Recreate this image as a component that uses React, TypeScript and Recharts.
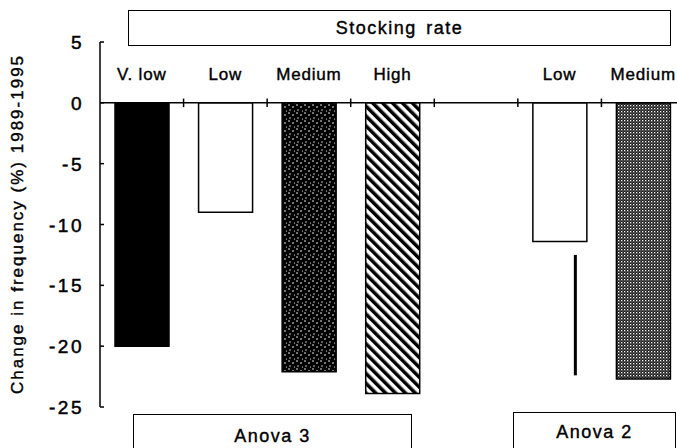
import React from "react";
import {
  BarChart,
  Bar,
  Cell,
  XAxis,
  YAxis,
  ReferenceLine,
} from "recharts";

// stocking-rate classes, the fifth slot is the gap between the two anovas
const categories = ["V. low", "Low", "Medium", "High", "", "Low", "Medium"];
const change = [-20, -9, -22.1, -23.9, null, -11.4, -22.7];
const fills = ["#000", "#fff", "url(#stipDark)", "url(#hatch)", "#fff", "#fff", "url(#stipLight)"];
// least significant difference bar, drawn beside the second "Low"
const lsd: (number[] | null)[] = [null, null, null, null, null, [-22.4, -12.5], null];
const yTicks = [5, 0, -5, -10, -15, -20, -25];

const data = categories.map((name, i) => ({
  name,
  pos: i + 0.5,
  change: change[i],
  lsd: lsd[i],
}));

const font = "'Liberation Sans', Arial, sans-serif";

const CatTick = (props: any) => {
  const { x, y, index } = props;
  return (
    <text x={x} y={y + 38} textAnchor="middle" fontFamily={font} fontSize={17} letterSpacing={0.8} fill="#000" stroke="#000" strokeWidth={0.4}>
      {categories[index]}
    </text>
  );
};

const ValTick = (props: any) => {
  const { x, y, payload } = props;
  return (
    <g>
      <line x1={x + 16} x2={x + 20} y1={y} y2={y} stroke="#000" strokeWidth={1.5} />
      <text x={x} y={y + 7} textAnchor="end" fontFamily={font} fontSize={19} letterSpacing={2.5} fill="#000" stroke="#000" strokeWidth={0.5}>
        {payload.value}
      </text>
    </g>
  );
};

const LsdShape = (props: any) => {
  const { x, y, width, height } = props;
  if (x == null || !height) return null;
  const top = height < 0 ? y + height : y;
  return <rect x={x + width / 2 + 14} y={top} width={3} height={Math.abs(height)} fill="#000" />;
};

const YLabel = () => (
  <text
    x={19}
    y={224}
    transform="rotate(-90 19 224)"
    textAnchor="middle"
    dominantBaseline="middle"
    fontFamily={font}
    fontSize={17}
    letterSpacing={2}
    fill="#000"
    stroke="#000"
    strokeWidth={0.4}
  >
    Change in frequency (%) 1989-1995
  </text>
);

const boxStyle: React.CSSProperties = {
  position: "absolute",
  border: "1.5px solid #000",
  boxSizing: "border-box",
  display: "flex",
  alignItems: "center",
  justifyContent: "center",
  fontFamily: font,
  fontSize: 18,
  letterSpacing: 1.5,
  WebkitTextStroke: "0.4px #000",
  background: "#fff",
};

export default function App() {
  return (
    <div style={{ position: "absolute", left: 0, top: 0, width: 677, height: 448, overflow: "hidden", background: "#fff" }}>
      <BarChart
        width={700}
        height={448}
        data={data}
        margin={{ top: 41, right: 15, left: 0, bottom: 41 }}
        barSize={54}
      >
        <defs>
          <pattern id="hatch" width="7" height="7" patternUnits="userSpaceOnUse" patternTransform="rotate(-45)">
            <rect width="7" height="7" fill="#fff" />
            <rect width="3.5" height="7" fill="#000" />
          </pattern>
          <pattern id="stipDark" width="8" height="8" patternUnits="userSpaceOnUse">
            <rect width="8" height="8" fill="#000" />
            <circle cx="1" cy="1" r="0.8" fill="#fff" />
            <circle cx="5" cy="3" r="0.8" fill="#fff" />
            <circle cx="2" cy="6" r="0.7" fill="#fff" />
            <circle cx="6.5" cy="7" r="0.6" fill="#fff" />
          </pattern>
          <pattern id="stipLight" width="3" height="3" patternUnits="userSpaceOnUse">
            <rect width="3" height="3" fill="#1a1a1a" />
            <rect x="0" y="0" width="1.3" height="1.3" fill="#fff" />
            <rect x="1.5" y="1.5" width="1" height="1" fill="#bbb" />
          </pattern>
        </defs>
        <XAxis
          xAxisId="cat"
          dataKey="name"
          orientation="top"
          height={1}
          axisLine={false}
          tickLine={false}
          tickSize={0}
          tickMargin={0}
          interval={0}
          tick={<CatTick />}
        />
        <XAxis xAxisId="lsd" dataKey="name" hide />
        <XAxis xAxisId="grid" type="number" dataKey="pos" domain={[0, categories.length]} allowDataOverflow hide />
        <YAxis
          width={100}
          domain={[-25, 5]}
          ticks={yTicks}
          interval={0}
          allowDataOverflow
          axisLine={{ stroke: "#000", strokeWidth: 1.5 }}
          tickLine={false}
          tickSize={0}
          tickMargin={16}
          tick={<ValTick />}
          label={<YLabel />}
        />
        <ReferenceLine xAxisId="cat" y={0} stroke="#000" strokeWidth={1.5} />
        {categories.slice(1).map((_, i) => (
          <ReferenceLine
            key={i}
            xAxisId="grid"
            segment={[
              { x: i + 1, y: -0.35 },
              { x: i + 1, y: 0.35 },
            ]}
            stroke="#000"
            strokeWidth={1.5}
          />
        ))}
        <Bar xAxisId="cat" dataKey="change" stroke="#000" strokeWidth={1.5} isAnimationActive={false}>
          {data.map((d, i) => (
            <Cell key={i} fill={fills[i]} />
          ))}
        </Bar>
        <Bar xAxisId="lsd" dataKey="lsd" shape={<LsdShape />} isAnimationActive={false} />
      </BarChart>
      <div style={{ ...boxStyle, left: 128, top: 10, width: 543, height: 36, wordSpacing: 3 }}>Stocking rate</div>
      <div style={{ ...boxStyle, left: 133, top: 414, width: 279, height: 50, alignItems: "flex-start", paddingTop: 11 }}>
        Anova 3
      </div>
      <div style={{ ...boxStyle, left: 513, top: 412, width: 163, height: 50, alignItems: "flex-start", paddingTop: 9 }}>
        Anova 2
      </div>
    </div>
  );
}
